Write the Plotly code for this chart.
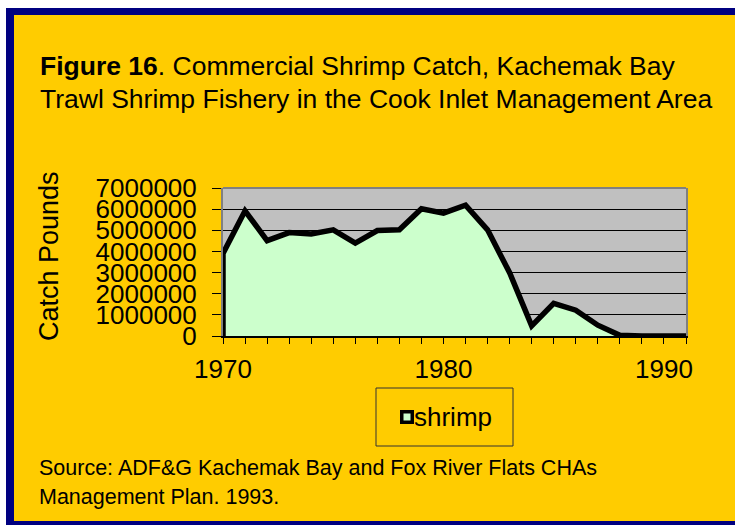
import plotly.graph_objects as go

# ---- data ----
years = [1970, 1971, 1972, 1973, 1974, 1975, 1976, 1977, 1978, 1979, 1980,
         1981, 1982, 1983, 1984, 1985, 1986, 1987, 1988, 1989, 1990, 1991]
shrimp = [3900000, 5920000, 4510000, 4890000, 4830000, 5020000, 4390000, 4990000,
          5020000, 6020000, 5810000, 6190000, 5020000, 2990000, 480000, 1540000,
          1220000, 510000, 30000, 0, 0, 0]
x_tick_labels = ["1970", "1980", "1990"]
x_tick_vals = [1970, 1980, 1990]

title_line1 = "<b>Figure 16</b>. Commercial Shrimp Catch, Kachemak Bay"
title_line2 = "Trawl Shrimp Fishery in the Cook Inlet Management Area"
source_line1 = "Source: ADF&G Kachemak Bay and Fox River Flats CHAs"
source_line2 = "Management Plan. 1993."
y_title = "Catch Pounds"
series_name = "shrimp"

# ---- geometry helpers (pixel -> paper) ----
W, H = 735, 525
L, R, T, B = 223, 686, 188, 336
PW, PH = R - L, B - T


def xp(px):
    return (px - L) / PW


def yp(py):
    return (B - py) / PH


FONT = "Arial, Liberation Sans, sans-serif"

# outline: close the area down to the baseline at the first year
ox = [years[0]] + years
oy = [0] + shrimp

fig = go.Figure()
fig.add_trace(go.Scatter(
    x=ox, y=oy, mode="lines", name=series_name,
    line=dict(color="black", width=5.5),
    fill="tozeroy", fillcolor="#CCFFCC",
    showlegend=False, hoverinfo="skip",
))

shapes = []


def rect(x0, y0, x1, y1, fill, line_color=None, lw=0, layer="above"):
    d = dict(type="rect", xref="paper", yref="paper",
             x0=xp(x0), x1=xp(x1), y0=yp(y0), y1=yp(y1),
             fillcolor=fill, layer=layer,
             line=dict(width=lw, color=line_color or "rgba(0,0,0,0)"))
    shapes.append(d)


# white outer margin and navy frame
rect(-5, -5, 6, 530, "white")
rect(-5, -5, 740, 8, "white")
rect(6, 8, 14, 530, "#000080")
rect(6, 8, 740, 15, "#000080")
rect(6, 521, 740, 530, "#000080")

# top border of plot area (gray)
shapes.append(dict(type="line", xref="paper", yref="paper", x0=0, x1=1, y0=1, y1=1,
                   line=dict(color="#808080", width=2), layer="above"))

# legend box
rect(376, 388, 513, 446, "rgba(0,0,0,0)", "#333333", 1)
rect(400, 410, 414, 424, "black")
rect(403.5, 413.5, 410.5, 420.5, "#CCFFCC")

annotations = [
    dict(text=title_line1, x=xp(39), y=yp(66), xanchor="left", yanchor="middle",
         font=dict(size=26.5, color="black", family=FONT)),
    dict(text=title_line2, x=xp(39), y=yp(99), xanchor="left", yanchor="middle",
         font=dict(size=26.5, color="black", family=FONT)),
    dict(text=source_line1, x=xp(38), y=yp(468), xanchor="left", yanchor="middle",
         font=dict(size=21.5, color="black", family=FONT)),
    dict(text=source_line2, x=xp(38), y=yp(497), xanchor="left", yanchor="middle",
         font=dict(size=21.5, color="black", family=FONT)),
    dict(text=y_title, x=xp(49), y=yp(256), xanchor="center", yanchor="middle",
         textangle=-90, font=dict(size=27, color="black", family=FONT)),
    dict(text=series_name, x=xp(413), y=yp(417), xanchor="left", yanchor="middle",
         font=dict(size=26, color="black", family=FONT)),
]
for a in annotations:
    a.update(xref="paper", yref="paper", showarrow=False, borderpad=0)

fig.update_layout(
    width=W, height=H, autosize=False,
    margin=dict(l=L, r=W - R, t=T, b=H - B, pad=0),
    paper_bgcolor="#FFCC00", plot_bgcolor="#C0C0C0",
    font=dict(family=FONT, color="black"),
    showlegend=False,
    shapes=shapes, annotations=annotations,
    xaxis=dict(range=[1970, 1991], tickvals=x_tick_vals, ticktext=x_tick_labels,
               ticks="outside", ticklen=6, tickcolor="black", tickwidth=1,
               tickfont=dict(size=26, color="black", family=FONT),
               ticklabelstandoff=3,
               minor=dict(dtick=1, tick0=1970, ticks="outside", ticklen=6,
                          tickcolor="black", showgrid=False),
               showgrid=False, zeroline=False,
               showline=True, linecolor="black", linewidth=2, mirror=False),
    yaxis=dict(range=[0, 7000000], dtick=1000000, tick0=0, tickformat="d",
               ticks="outside", ticklen=9, tickcolor="black", tickwidth=1,
               tickfont=dict(size=26, color="black", family=FONT),
               ticklabelstandoff=10,
               showgrid=True, gridcolor="black", gridwidth=1, zeroline=False,
               showline=True, linecolor="#808080", linewidth=2, mirror=True),
)

fig.write_html(
    "out.html",
    config={"displayModeBar": False},
    post_script="document.body.style.margin='0';document.body.style.overflow='hidden';",
)
